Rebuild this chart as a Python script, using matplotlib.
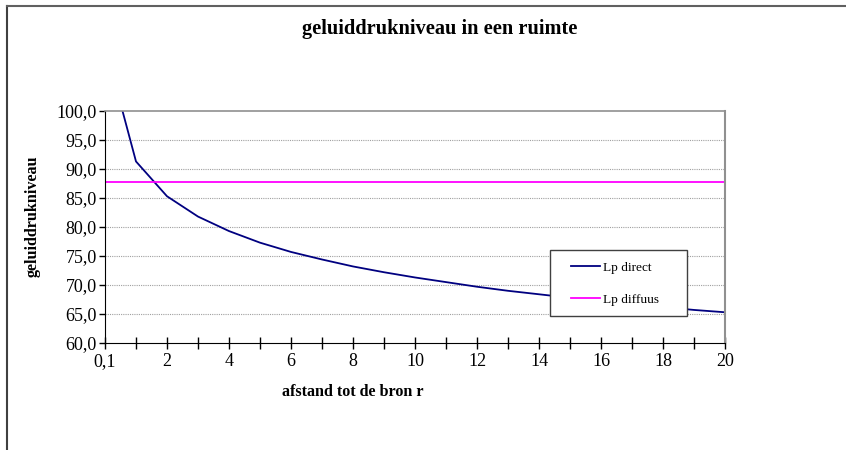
#!/usr/bin/env python3

import matplotlib.pyplot as plt
from matplotlib.patches import Rectangle

# afstand r (categorieen op de x-as)
afstand = [0.1, 1, 2, 3, 4, 5, 6, 7, 8, 9, 10,
           11, 12, 13, 14, 15, 16, 17, 18, 19, 20]
lp_direct = [111.3, 91.3, 85.3, 81.8, 79.3, 77.3, 75.7, 74.4, 73.2, 72.2, 71.3,
             70.5, 69.7, 69.0, 68.4, 67.8, 67.2, 66.7, 66.2, 65.7, 65.3]
lp_diffuus = [87.7] * len(afstand)

y_ticks = [60, 65, 70, 75, 80, 85, 90, 95, 100]


def fmt(v):
    return f"{v:g}".replace(".", ",")


def main():
    plt.rcParams["font.family"] = ["Liberation Serif", "DejaVu Serif"]

    fig = plt.figure(figsize=(8.46, 4.5), dpi=100)
    ax = fig.add_axes([105 / 846, 1 - 343 / 450, 620 / 846, 232 / 450])

    x = list(range(len(afstand)))
    ax.plot(x, lp_direct, color="#000080", lw=1.3, label="Lp direct")
    ax.plot(x, lp_diffuus, color="#ff00ff", lw=1.3, label="Lp diffuus")

    ax.set_xlim(0, len(afstand) - 1)
    ax.set_ylim(60, 100)
    ax.set_xticks(x)
    ax.set_xticklabels([fmt(a) if i % 2 == 0 else "" for i, a in enumerate(afstand)])
    ax.set_yticks(y_ticks)
    ax.set_yticklabels([f"{v:.1f}".replace(".", ",") for v in y_ticks])
    ax.tick_params(axis="x", direction="inout", length=8, width=1, labelsize=13, pad=3)
    ax.tick_params(axis="y", direction="out", length=4, width=1, labelsize=13, pad=2)

    for v in y_ticks[1:-1]:
        ax.axhline(v, color="#a0a0a0", lw=0.8, ls=(0, (1, 1)), zorder=0)

    ax.spines["left"].set_color("black")
    ax.spines["bottom"].set_color("black")
    ax.spines["top"].set_color("#909090")
    ax.spines["right"].set_color("#909090")
    ax.spines["top"].set_linewidth(1.2)
    ax.spines["right"].set_linewidth(1.5)

    # legenda: eigen kader, items gecentreerd erin
    fx = lambda px: (px - 105) / 620
    fy = lambda py: (343 - py) / 232
    box = Rectangle((fx(550), fy(316)), fx(687) - fx(550), fy(250) - fy(316),
                    transform=ax.transAxes, facecolor="white", edgecolor="#404040",
                    lw=1.0, zorder=5)
    ax.add_patch(box)
    leg = ax.legend(loc="center", bbox_to_anchor=(fx(614.5), fy(283.5)),
                    fontsize=9.6, handlelength=2.2, handletextpad=0.2,
                    labelspacing=1.45, borderaxespad=0, borderpad=0,
                    frameon=False)
    leg.set_zorder(6)

    fig.text(440 / 846, 1 - 29 / 450, "geluiddrukniveau in een ruimte",
             ha="center", va="center", fontsize=14.7, fontweight="bold")
    fig.text(353 / 846, 1 - 392 / 450, "afstand tot de bron r",
             ha="center", va="center", fontsize=11.6, fontweight="bold")
    fig.text(33 / 846, 1 - 216 / 450, "geluiddrukniveau",
             ha="center", va="center", rotation=90, fontsize=11.6, fontweight="bold")

    # kader rond de grafiek
    fig.add_artist(plt.Line2D([7 / 846, 7 / 846], [0, 1 - 6 / 450],
                              color="#404040", lw=1.5, transform=fig.transFigure))
    fig.add_artist(plt.Line2D([7 / 846, 1], [1 - 6 / 450, 1 - 6 / 450],
                              color="#606060", lw=1.5, transform=fig.transFigure))

    fig.savefig("out.png", dpi=100)


if __name__ == "__main__":
    main()
